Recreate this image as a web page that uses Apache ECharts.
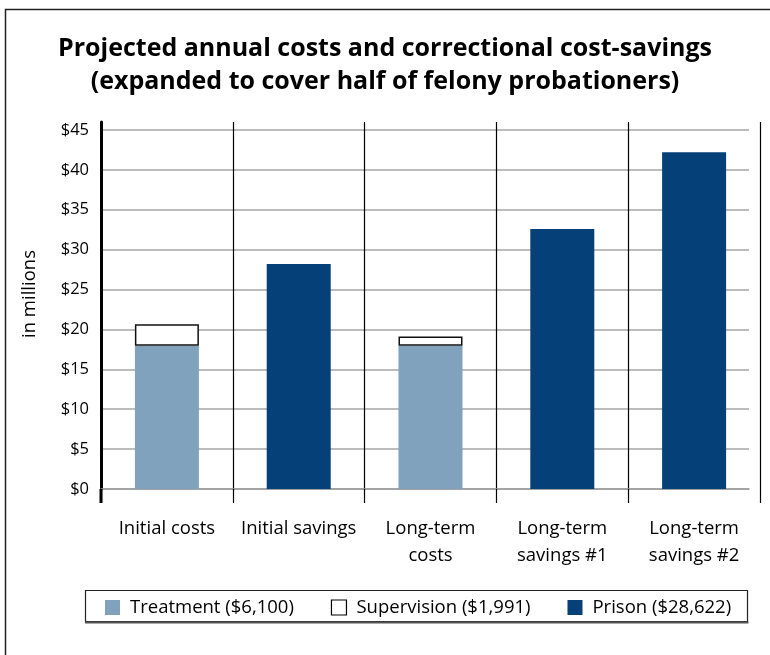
<!DOCTYPE html>
<html>
<head>
<meta charset="utf-8">
<script src="https://cdn.jsdelivr.net/npm/echarts@6/dist/echarts.min.js"></script>
<style>
html,body{margin:0;padding:0;background:#fff;}
#chart{width:770px;height:655px;}
</style>
</head>
<body>
<div id="chart"></div>
<script>
const categories = ['Initial costs', 'Initial savings', 'Long-term\ncosts', 'Long-term\nsavings #1', 'Long-term\nsavings #2'];
const treatment = [17.95, '-', 17.95, '-', '-'];
const supervision = [2.7, '-', 1.15, '-', '-'];
const prison = ['-', 28.2, '-', 32.6, 42.2];
const seriesNames = ['Treatment ($6,100)', 'Supervision ($1,991)', 'Prison ($28,622)'];
const yTicks = [0, 5, 10, 15, 20, 25, 30, 35, 40, 45];

const FONT = 'Open Sans';
const chart = echarts.init(document.getElementById('chart'), null, {renderer: 'canvas'});
const yMax = 46;
const gridColors = yTicks.map(() => '#a6a6a6').concat(['rgba(0,0,0,0)']);

chart.setOption({
  animation: false,
  backgroundColor: '#fff',
  title: {
    text: 'Projected annual costs and correctional cost-savings\n(expanded to cover half of felony probationers)',
    left: 'center',
    top: 27,
    textStyle: {fontFamily: FONT, fontWeight: 'bold', fontSize: 25, lineHeight: 33, color: '#000'}
  },
  grid: [
    {left: 101, right: 10, top: 122, bottom: 655 - 489},
    {left: 101, right: 21, top: 122, bottom: 655 - 489}
  ],
  legend: {
    left: 105, top: 598, padding: 0,
    itemWidth: 15, itemHeight: 15, itemGap: 37,
    icon: 'rect',
    textStyle: {fontFamily: FONT, fontSize: 18.5, color: '#000', padding: [0, 0, 0, 5]},
    data: [
      {name: seriesNames[0]},
      {name: seriesNames[1], itemStyle: {color: '#fff', borderColor: '#000', borderWidth: 1.2}},
      {name: seriesNames[2]}
    ]
  },
  xAxis: [
    {
      type: 'category', gridIndex: 0, data: categories,
      axisLine: {show: false},
      axisTick: {show: true, length: 14, lineStyle: {color: '#000', width: 1.2}},
      splitLine: {show: true, lineStyle: {color: '#000', width: 1.2}},
      axisLabel: {fontFamily: FONT, fontSize: 18.5, color: '#000', margin: 26, lineHeight: 27, interval: 0}
    },
    {
      type: 'category', gridIndex: 1, data: categories,
      axisLine: {show: true, lineStyle: {color: '#9a9a9a', width: 1.5}},
      axisTick: {show: false}, axisLabel: {show: false}, splitLine: {show: false}
    }
  ],
  yAxis: [
    {
      type: 'value', gridIndex: 0, min: 0, max: yMax, interval: 5,
      axisLine: {show: true, lineStyle: {color: '#000', width: 3}},
      axisTick: {show: false},
      splitLine: {show: false},
      axisLabel: {
        fontFamily: FONT, fontSize: 16.5, color: '#000', margin: 12,
        formatter: v => (yTicks.indexOf(v) >= 0 ? '$' + v : '')
      }
    },
    {
      type: 'value', gridIndex: 1, min: 0, max: yMax, interval: 5,
      axisLine: {show: false}, axisTick: {show: false}, axisLabel: {show: false},
      splitLine: {show: true, lineStyle: {color: gridColors, width: 1.5}}
    }
  ],
  series: [
    {name: seriesNames[0], type: 'bar', stack: 'total', data: treatment, barWidth: 64,
     itemStyle: {color: '#80a2bc'}},
    {name: seriesNames[1], type: 'bar', stack: 'total', data: supervision, barWidth: 64,
     itemStyle: {color: '#fff', borderColor: '#111', borderWidth: 1.5}},
    {name: seriesNames[2], type: 'bar', stack: 'total', data: prison, barWidth: 64,
     itemStyle: {color: '#054078'}}
  ],
  graphic: [
    {type: 'polyline', shape: {points: [[5.5, 660], [5.5, 9.5], [770, 9.5]]},
     style: {stroke: '#222', lineWidth: 1.5, fill: null}, z: 10},
    {type: 'rect', shape: {x: 85.5, y: 590.5, width: 662, height: 31},
     style: {stroke: '#222', lineWidth: 1.2, fill: null}, z: 1},
    {type: 'line', shape: {x1: 85, y1: 622.5, x2: 748.5, y2: 622.5},
     style: {stroke: '#555', lineWidth: 2}, z: 1},
    {type: 'line', shape: {x1: 101, y1: 489, x2: 101, y2: 503},
     style: {stroke: '#000', lineWidth: 3}, z: 5},
    {type: 'text', x: 30, y: 294, rotation: Math.PI / 2,
     style: {text: 'in millions', font: '18.5px "Open Sans"', fill: '#000', textAlign: 'center', textVerticalAlign: 'middle'}}
  ]
});
</script>
</body>
</html>
